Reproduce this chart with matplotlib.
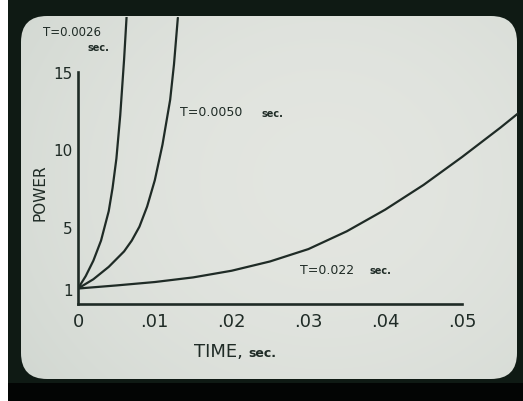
import matplotlib
matplotlib.use("Agg")
import numpy as np
import matplotlib.pyplot as plt
from matplotlib.patches import FancyBboxPatch, Rectangle
from matplotlib.transforms import IdentityTransform

# values (time in s, relative power)
t_fast = [0, 0.001, 0.002, 0.003, 0.004, 0.0045, 0.005, 0.0055, 0.006, 0.0064]
p_fast = [1.0, 1.8, 2.8, 4.1, 6.0, 7.5, 9.4, 12.2, 15.8, 19.2]

t_mid = [0, 0.002, 0.004, 0.006, 0.007, 0.008, 0.009, 0.010, 0.011, 0.012, 0.0125, 0.013]
p_mid = [1.0, 1.6, 2.4, 3.4, 4.1, 5.0, 6.3, 8.0, 10.3, 13.2, 15.5, 18.5]

t_slow = [0, 0.005, 0.010, 0.015, 0.020, 0.025, 0.030, 0.035, 0.040, 0.045, 0.050, 0.055, 0.058]
p_slow = [1.0, 1.2, 1.42, 1.72, 2.15, 2.75, 3.55, 4.7, 6.1, 7.7, 9.5, 11.4, 12.6]

x_ticks = [0, 0.01, 0.02, 0.03, 0.04, 0.05]
x_tick_labels = ["0", ".01", ".02", ".03", ".04", ".05"]
y_ticks = [1, 5, 10, 15]
y_tick_labels = ["1", "5", "10", "15"]

ink = "#1f2b26"
W, H = 523, 402

fig = plt.figure(figsize=(W / 100, H / 100), dpi=100)
fig.patch.set_facecolor("white")


def px(x, y):
    # pixel position measured from the top-left corner -> display coords
    return x, H - y


# dark surround of the CRT screen
x0, y0 = px(8, 402)
fig.patches.append(Rectangle((x0, y0), W - 8, H, transform=IdentityTransform(),
                             facecolor="#0f1a14", edgecolor="none", zorder=-3))
fig.patches.append(Rectangle((x0, y0), W - 8, 18, transform=IdentityTransform(),
                             facecolor="#030504", edgecolor="none", zorder=-3))

# the screen, with a soft glow brighter towards the middle
bg = fig.add_axes([0, 0, 1, 1], zorder=-1)
bg.set_axis_off()
gx, gy = np.meshgrid(np.linspace(0, 1, W), np.linspace(0, 1, H))
glow = 1 - 0.55 * ((gx - 0.62) ** 2 * 1.6 + (gy - 0.45) ** 2 * 1.2)
glow = np.clip(glow, 0, 1)
lo = np.array([0.74, 0.78, 0.75])
hi = np.array([0.89, 0.90, 0.88])
img = lo + (hi - lo) * glow[..., None]
im = bg.imshow(img, extent=(0, W, 0, H), origin="upper", aspect="auto")
bg.set_xlim(0, W)
bg.set_ylim(0, H)
sx, sy = px(21, 380)
screen = FancyBboxPatch((sx, sy), 517 - 21, 380 - 17,
                        boxstyle="round,pad=0,rounding_size=26",
                        transform=IdentityTransform(),
                        facecolor="none", edgecolor="none")
im.set_clip_path(screen)

ax = fig.add_axes([78 / W, (H - 305) / H, (518 - 78) / W, (305 - 18) / H])
ax.set_facecolor("none")
ax.set_xlim(0, (518 - 78) / 7680)
ax.set_ylim(0, (305 - 18) / 15.47)

for t, p in [(t_fast, p_fast), (t_mid, p_mid), (t_slow, p_slow)]:
    ax.plot(t, p, color=ink, lw=1.6, solid_capstyle="round", solid_joinstyle="round")

for side in ["top", "right"]:
    ax.spines[side].set_visible(False)
ax.spines["left"].set_bounds(0, 15)
ax.spines["bottom"].set_bounds(0, 0.05)
for side in ["left", "bottom"]:
    ax.spines[side].set_color(ink)
    ax.spines[side].set_linewidth(1.9)

ax.set_xticks(x_ticks)
ax.set_xticklabels(x_tick_labels)
ax.set_yticks(y_ticks)
ax.set_yticklabels(y_tick_labels)
ax.tick_params(axis="x", length=0, pad=6, labelsize=13, colors=ink)
ax.tick_params(axis="y", length=0, pad=4, labelsize=11, colors=ink)

fig.text(40 / W, 1 - 193 / H, "POWER", rotation=90, ha="center", va="center",
         fontsize=11, color=ink)
fig.text(218 / W, 1 - 352 / H, "TIME,", ha="center", va="center",
         fontsize=13, color=ink)
fig.text(262 / W, 1 - 354 / H, "sec.", ha="center", va="center",
         fontsize=9, fontweight="bold", color=ink)

# curve labels
fig.text(43 / W, 1 - 32 / H, "T=0.0026", ha="left", va="center",
         fontsize=8.5, color=ink)
fig.text(88 / W, 1 - 48 / H, "sec.", ha="left", va="center",
         fontsize=7, fontweight="bold", color=ink)
fig.text(180 / W, 1 - 113 / H, "T=0.0050", ha="left", va="center",
         fontsize=9, color=ink)
fig.text(262 / W, 1 - 114 / H, "sec.", ha="left", va="center",
         fontsize=7, fontweight="bold", color=ink)
fig.text(300 / W, 1 - 270 / H, "T=0.022", ha="left", va="center",
         fontsize=9, color=ink)
fig.text(370 / W, 1 - 271 / H, "sec.", ha="left", va="center",
         fontsize=7, fontweight="bold", color=ink)

fig.savefig("out.png", dpi=100, facecolor=fig.get_facecolor())
